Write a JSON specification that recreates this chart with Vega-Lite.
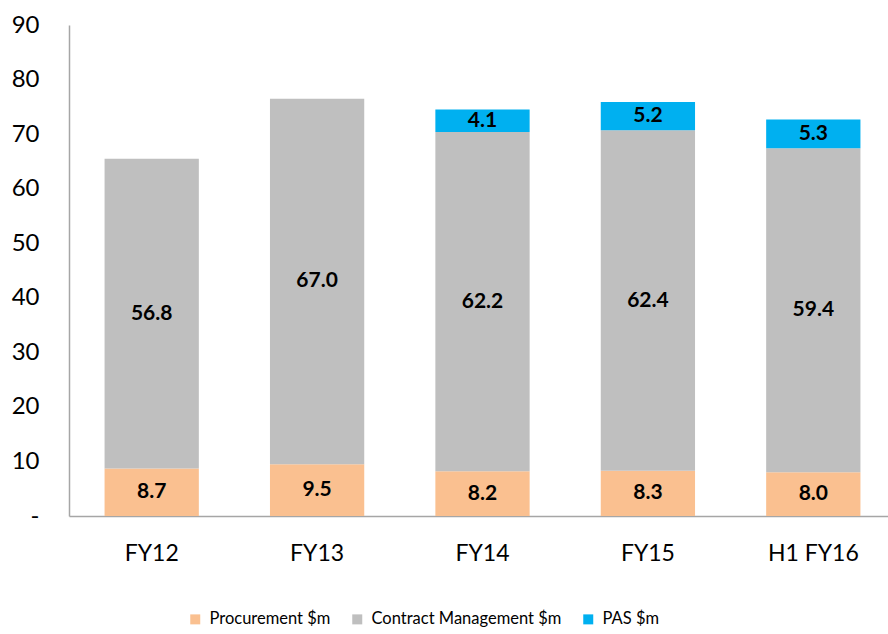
{
  "$schema": "https://vega.github.io/schema/vega-lite/v6.json",
  "width": 827,
  "height": 491,
  "autosize": {"type": "none"},
  "padding": {"left": 69, "top": 25, "right": 0, "bottom": 118},
  "background": "white",
  "config": {
    "font": "Lato",
    "view": {"stroke": null}
  },
  "data": {
    "values": [
      {"period": "FY12", "series": "Procurement $m", "o": 1, "value": 8.7},
      {"period": "FY12", "series": "Contract Management $m", "o": 2, "value": 56.8},
      {"period": "FY13", "series": "Procurement $m", "o": 1, "value": 9.5},
      {"period": "FY13", "series": "Contract Management $m", "o": 2, "value": 67.0},
      {"period": "FY14", "series": "Procurement $m", "o": 1, "value": 8.2},
      {"period": "FY14", "series": "Contract Management $m", "o": 2, "value": 62.2},
      {"period": "FY14", "series": "PAS $m", "o": 3, "value": 4.1},
      {"period": "FY15", "series": "Procurement $m", "o": 1, "value": 8.3},
      {"period": "FY15", "series": "Contract Management $m", "o": 2, "value": 62.4},
      {"period": "FY15", "series": "PAS $m", "o": 3, "value": 5.2},
      {"period": "H1 FY16", "series": "Procurement $m", "o": 1, "value": 8.0},
      {"period": "H1 FY16", "series": "Contract Management $m", "o": 2, "value": 59.4},
      {"period": "H1 FY16", "series": "PAS $m", "o": 3, "value": 5.3}
    ]
  },
  "encoding": {
    "x": {
      "field": "period", "type": "nominal", "sort": null,
      "scale": {"paddingInner": 0.43, "paddingOuter": 0.215},
      "axis": {
        "title": null, "labelAngle": 0, "labelFontSize": 23, "labelColor": "#000000",
        "labelPadding": 26, "ticks": false, "domainColor": "#A6A6A6", "domainWidth": 1.5,
        "labelFont": "Lato"
      }
    },
    "y": {
      "field": "value", "type": "quantitative", "stack": "zero",
      "scale": {"domain": [0, 90], "nice": false},
      "axis": {
        "title": null, "values": [0,10,20,30,40,50,60,70,80,90],
        "labelExpr": "datum.value == 0 ? '-' : datum.label",
        "grid": false, "ticks": false, "labelPadding": 30, "labelFontSize": 24,
        "labelColor": "#000000", "domainColor": "#A6A6A6", "domainWidth": 1.5,
        "labelFont": "Lato"
      }
    },
    "order": {"field": "o", "type": "quantitative"}
  },
  "layer": [
    {
      "mark": {"type": "bar"},
      "encoding": {
        "color": {
          "field": "series", "type": "nominal",
          "scale": {
            "domain": ["Procurement $m", "Contract Management $m", "PAS $m"],
            "range": ["#FAC090", "#BFBFBF", "#00B0F0"]
          },
          "legend": {
            "title": null, "orient": "none", "direction": "horizontal",
            "legendX": 118, "legendY": 586,
            "symbolType": "square", "symbolSize": 100, "symbolStrokeWidth": 0,
            "labelFontSize": 16.5, "labelColor": "#000000", "columnPadding": 18,
            "labelFont": "Lato", "labelOffset": 6, "labelLimit": 0
          }
        }
      }
    },
    {
      "mark": {"type": "text", "fontSize": 21, "fontWeight": "bold", "color": "#000000", "font": "Lato"},
      "encoding": {
        "y": {"field": "value", "type": "quantitative", "stack": "zero", "bandPosition": 0.5},
        "text": {"field": "value", "type": "quantitative", "format": ".1f"}
      }
    }
  ]
}
